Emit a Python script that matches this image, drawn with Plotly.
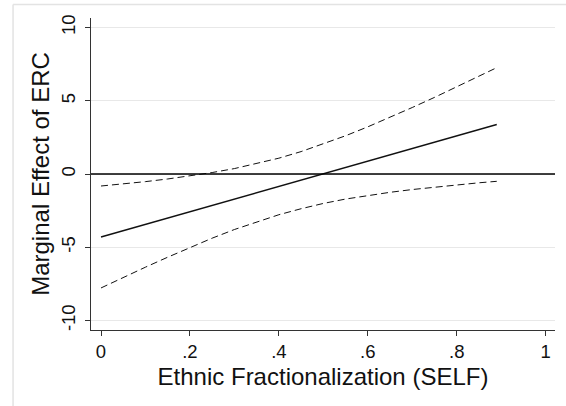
import plotly.graph_objects as go

# Ethnic fractionalization (SELF) grid
self_x = [0.0, 0.05, 0.10, 0.15, 0.20, 0.25, 0.30, 0.35, 0.40, 0.45,
          0.50, 0.55, 0.60, 0.65, 0.70, 0.75, 0.80, 0.85, 0.89]
# Marginal effect of ERC
effect = [-4.30, -3.87, -3.44, -3.01, -2.57, -2.14, -1.71, -1.28, -0.85, -0.42,
          0.02, 0.45, 0.88, 1.31, 1.74, 2.17, 2.60, 3.04, 3.38]
# 95% confidence bounds
upper = [-0.82, -0.68, -0.52, -0.34, -0.13, 0.10, 0.37, 0.70, 1.08, 1.53,
         2.05, 2.61, 3.22, 3.87, 4.54, 5.23, 5.95, 6.68, 7.26]
lower = [-7.78, -7.06, -6.36, -5.68, -5.01, -4.38, -3.79, -3.26, -2.78, -2.37,
         -2.01, -1.71, -1.46, -1.25, -1.06, -0.89, -0.75, -0.60, -0.50]

x_ticks = [0, 0.2, 0.4, 0.6, 0.8, 1]
x_tick_text = ["0", ".2", ".4", ".6", ".8", "1"]
y_ticks = [-10, -5, 0, 5, 10]
y_tick_text = ["-10", "-5", "0", "5", "10"]

FONT = "Liberation Sans, Arial, Helvetica, sans-serif"
INK = "#111111"

fig = go.Figure()
fig.add_trace(go.Scatter(x=self_x, y=upper, mode="lines",
                         line=dict(color=INK, width=1, dash="7px,4px"),
                         showlegend=False, hoverinfo="skip"))
fig.add_trace(go.Scatter(x=self_x, y=lower, mode="lines",
                         line=dict(color=INK, width=1, dash="7px,4px"),
                         showlegend=False, hoverinfo="skip"))
fig.add_trace(go.Scatter(x=self_x, y=effect, mode="lines",
                         line=dict(color=INK, width=1.4),
                         showlegend=False))

# zero reference line across the plot
fig.add_shape(type="line", xref="paper", yref="y", x0=0, x1=1, y0=0, y1=0,
              line=dict(color="black", width=1.4), layer="above")
# light outer frame of the graph region (left and top edges)
fig.add_shape(type="line", xref="paper", yref="paper",
              x0=-0.168, x1=-0.168, y0=-0.3, y1=1.043,
              line=dict(color="#e3e3e3", width=1.5), layer="above")
fig.add_shape(type="line", xref="paper", yref="paper",
              x0=-0.168, x1=1.05, y0=1.043, y1=1.043,
              line=dict(color="#e3e3e3", width=1.5), layer="above")

fig.update_layout(
    width=566, height=406,
    margin=dict(l=91, r=11, t=18, b=76, autoexpand=False),
    paper_bgcolor="white", plot_bgcolor="white",
    font=dict(family=FONT, color=INK),
    xaxis=dict(
        range=[-0.0225, 1.021], tickvals=x_ticks, ticktext=x_tick_text,
        showgrid=False, zeroline=False,
        showline=True, linecolor="#333333", linewidth=1,
        ticks="outside", ticklen=5, tickcolor="#333333", tickwidth=1,
        tickfont=dict(size=18.5, family=FONT, color=INK), ticklabelstandoff=0,
        title=dict(text="Ethnic Fractionalization (SELF)",
                   font=dict(size=24, family=FONT, color=INK), standoff=6),
        automargin=False,
    ),
    yaxis=dict(
        range=[-10.65, 10.65], tickvals=y_ticks, ticktext=y_tick_text,
        tickangle=-90,
        showgrid=True, gridcolor="#e8e8e8", gridwidth=1, zeroline=False,
        showline=True, linecolor="#333333", linewidth=1,
        ticks="outside", ticklen=5, tickcolor="#333333", tickwidth=1,
        tickfont=dict(size=18.5, family=FONT, color=INK), ticklabelstandoff=3,
        title=dict(text="Marginal Effect of ERC",
                   font=dict(size=24, family=FONT, color=INK), standoff=1),
        automargin=False,
    ),
)

fig.write_html("out.html")
